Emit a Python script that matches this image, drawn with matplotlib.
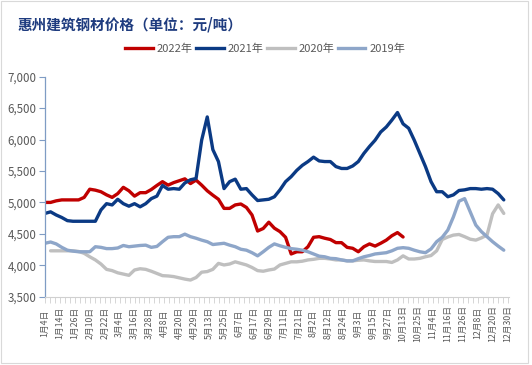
import numpy as np
import matplotlib
matplotlib.use("Agg")
import matplotlib.pyplot as plt
from matplotlib.lines import Line2D
from matplotlib.patches import Rectangle
from matplotlib.ticker import FuncFormatter

plt.rcParams['font.family'] = ['Noto Sans CJK SC', 'DejaVu Sans']

title = "惠州建筑钢材价格（单位：元/吨）"
series_names = ["2022年", "2021年", "2020年", "2019年"]

# tick labels (one every 8 trading days)
date_labels = ["1月4日", "1月14日", "1月26日", "2月10日", "2月22日", "3月4日", "3月16日", "3月28日",
               "4月8日", "4月20日", "4月29日", "5月13日", "5月25日", "6月7日", "6月17日", "6月29日",
               "7月11日", "7月21日", "8月2日", "8月12日", "8月24日", "9月3日", "9月15日", "9月27日",
               "10月13日", "10月25日", "11月4日", "11月16日", "11月26日", "12月8日", "12月20日", "12月30日"]
label_every = 8
sample_every = 3  # values below are read every 3rd trading day

y2022 = [5000, 5000, 5025, 5040, 5040, 5040, 5040, 5080, 5210, 5195,
         5170, 5120, 5080, 5140, 5240, 5185, 5100, 5155, 5155, 5205,
         5270, 5330, 5275, 5315, 5345, 5375, 5300, 5355, 5275, 5185,
         5115, 5050, 4905, 4905, 4960, 4975, 4920, 4800, 4545, 4585,
         4685, 4590, 4535, 4445, 4180, 4215, 4215, 4295, 4445, 4455,
         4430, 4410, 4360, 4360, 4285, 4270, 4215, 4295, 4340, 4305,
         4350, 4400, 4470, 4520, 4450]
y2021 = [4825, 4850, 4800, 4760, 4710, 4700, 4700, 4700, 4700, 4700,
         4880, 4980, 4960, 5050, 4980, 4940, 4980, 4930, 4980, 5060,
         5100, 5270, 5210, 5220, 5210, 5310, 5360, 5380, 5990, 6360,
         5840, 5650, 5220, 5330, 5370, 5210, 5220, 5120, 5030, 5040,
         5050, 5090, 5200, 5330, 5410, 5510, 5590, 5650, 5720, 5660,
         5650, 5650, 5570, 5540, 5540, 5580, 5650, 5780, 5890, 5990,
         6120, 6200, 6310, 6430, 6250, 6180, 5990, 5780, 5570, 5330,
         5170, 5170, 5090, 5120, 5190, 5200, 5220, 5220, 5210, 5220,
         5210, 5140, 5040]
y2020 = [np.nan, 4230, 4230, 4230, 4230, 4230, 4220, 4190, 4135, 4085,
         4020, 3935, 3915, 3880, 3860, 3840, 3925, 3945, 3935, 3905,
         3870, 3835, 3830, 3820, 3800, 3780, 3765, 3805, 3890, 3900,
         3935, 4030, 4005, 4020, 4055, 4030, 4005, 3965, 3915, 3905,
         3925, 3940, 4005, 4030, 4055, 4055, 4065, 4085, 4095, 4110,
         4110, 4100, 4085, 4085, 4070, 4070, 4080, 4085, 4070, 4060,
         4060, 4060, 4045, 4085, 4150, 4100, 4100, 4110, 4135, 4155,
         4230, 4410, 4450, 4480, 4490, 4455, 4415, 4400, 4435, 4480,
         4820, 4960, 4825]
y2019 = [4350, 4370, 4340, 4285, 4240, 4225, 4215, 4215, 4215, 4295,
         4285, 4265, 4265, 4275, 4315, 4295, 4305, 4315, 4320, 4285,
         4300, 4375, 4445, 4455, 4455, 4495, 4455, 4430, 4400, 4375,
         4330, 4340, 4350, 4320, 4295, 4255, 4240, 4200, 4150, 4215,
         4285, 4340, 4310, 4285, 4265, 4255, 4240, 4215, 4180, 4145,
         4135, 4110, 4105, 4085, 4070, 4070, 4105, 4135, 4155, 4180,
         4190, 4200, 4230, 4270, 4280, 4270, 4240, 4215, 4200, 4260,
         4375, 4445, 4560, 4770, 5020, 5060, 4850, 4640, 4535, 4455,
         4375, 4305, 4240]

colors = ["#C00000", "#0B3A84", "#BFBFBF", "#8EA6C9"]
series = [y2022, y2021, y2020, y2019]

W, H = 532, 365
fig = plt.figure(figsize=(W / 100, H / 100), dpi=100)
fig.patch.set_facecolor("white")
fig.add_artist(Rectangle((1 / W, 1 - 363 / H), 527 / W, 362 / H, transform=fig.transFigure,
                         fill=False, edgecolor="#D9D9D9", linewidth=0.8))

ax = fig.add_axes([45 / W, 1 - 296.7 / H, (509 - 45) / W, (296.7 - 76.7) / H])

for vals, c, name in zip(series, colors, series_names):
    x = np.arange(len(vals)) * sample_every
    ax.plot(x, vals, color=c, linewidth=2.4, solid_joinstyle="round", solid_capstyle="round", label=name)

n_cat = (len(date_labels) - 1) * label_every
ax.set_xlim(0, n_cat + 0.8)
ax.set_ylim(3500, 7000)
ax.set_yticks(np.arange(3500, 7001, 500))
ax.yaxis.set_major_formatter(FuncFormatter(lambda v, p: f"{int(v):,}"))
ax.set_xticks(np.arange(len(date_labels)) * label_every)
ax.set_xticklabels(date_labels, rotation=90, fontsize=6.3, color="#595959")
for lab in ax.get_xticklabels():
    lab.set_va("center")
    lab.set_ha("center")
ax.set_xticks(np.arange(0, n_cat + 1, label_every / 3), minor=True)

ax.tick_params(axis="y", labelsize=8.3, colors="#595959", length=4, width=0.8, color="#7F9CC4", pad=2)
ax.tick_params(axis="x", which="major", length=4, width=0.6, color="#D0D0D0", pad=15)
ax.tick_params(axis="x", which="minor", length=4, width=0.6, color="#D0D0D0")

for s in ["top", "right"]:
    ax.spines[s].set_visible(False)
ax.spines["left"].set_color("#7F9CC4")
ax.spines["left"].set_linewidth(0.9)
ax.spines["bottom"].set_color("#D0D0D0")
ax.spines["bottom"].set_linewidth(0.8)

fig.text(18 / W, 1 - 24 / H, title, fontsize=10.5, fontweight="bold", color="#1F3C7F",
         va="center", ha="left")

handles = [Line2D([0], [0], color=c, linewidth=2.4) for c in colors]
fig.legend(handles, series_names, loc="center", bbox_to_anchor=(265 / W, 1 - 49 / H), ncol=4,
           frameon=False, fontsize=8, handlelength=2.5, handletextpad=0.35, columnspacing=0.3,
           labelcolor="#595959", borderaxespad=0, borderpad=0)

fig.savefig("out.png", dpi=100, facecolor="white")
